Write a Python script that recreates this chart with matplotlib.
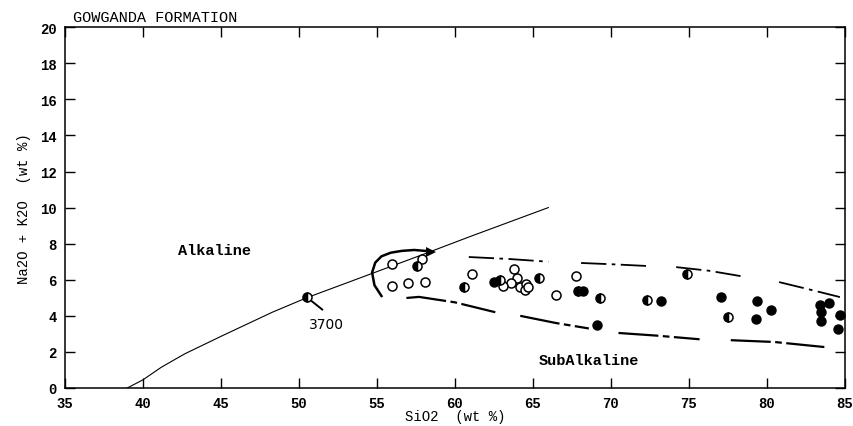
import numpy as np
import matplotlib.pyplot as plt

# Irvine & Baragar alkaline / subalkaline divide
div_x = [39.0, 40.0, 41.2, 42.7, 45.1, 48.3, 50.5, 54.7, 57.8, 61.0, 66.0]
div_y = [0.0, 0.45, 1.16, 1.9, 2.9, 4.2, 5.0, 6.35, 7.35, 8.4, 10.0]

# samples (SiO2, Na2O+K2O)
open_x = [56.0, 56.0, 57.0, 58.1, 57.9, 61.1, 63.8, 64.0, 63.6, 63.1, 64.2, 64.6, 64.5, 64.7, 67.8, 66.5]
open_y = [6.9, 5.65, 5.8, 5.9, 7.15, 6.3, 6.6, 6.1, 5.8, 5.65, 5.6, 5.75, 5.45, 5.6, 6.2, 5.15]

half_x = [50.5, 57.6, 60.6, 62.9, 65.4, 67.9, 69.3, 72.3, 74.9, 77.5]
half_y = [5.05, 6.75, 5.6, 6.0, 6.1, 5.4, 5.0, 4.9, 6.3, 3.95]

full_x = [62.5, 68.2, 69.1, 73.2, 77.1, 79.4, 79.3, 80.3, 83.4, 83.5, 83.5, 84.0, 84.7, 84.55]
full_y = [5.9, 5.35, 3.5, 4.8, 5.05, 4.8, 3.8, 4.3, 4.6, 4.2, 3.7, 4.7, 4.05, 3.25]

# hand-drawn field outline (broken segments)
upper_segs = [
    ([60.9, 63.5, 66.0], [7.26, 7.15, 7.0]),
    ([68.1, 70.3, 72.4], [6.93, 6.85, 6.76]),
    ([74.2, 76.3, 78.35], [6.7, 6.5, 6.2]),
    ([80.8, 82.8, 84.7], [5.87, 5.45, 5.04]),
]
lower_segs = [
    ([56.9, 57.7, 60.0, 62.6], [4.99, 5.05, 4.75, 4.2]),
    ([64.2, 66.5, 68.6], [4.0, 3.6, 3.3]),
    ([70.5, 73.0, 75.7], [3.05, 2.9, 2.7]),
    ([77.7, 80.5, 83.7], [2.65, 2.55, 2.27]),
]
arc_x = [55.3, 54.85, 54.7, 54.9, 55.3, 55.9, 56.6, 57.4, 58.1]
arc_y = [5.1, 5.7, 6.4, 6.95, 7.3, 7.5, 7.6, 7.65, 7.6]

mono = 'Liberation Mono'

fig, ax = plt.subplots(figsize=(8.54, 4.27), dpi=100)
fig.subplots_adjust(left=0.076, right=0.989, bottom=0.089, top=0.934)

ax.plot(div_x, div_y, color='black', lw=0.8)

for sx, sy in upper_segs:
    ax.plot(sx, sy, color='black', lw=1.3, dashes=(14, 3, 2, 3))
for sx, sy in lower_segs:
    ax.plot(sx, sy, color='black', lw=1.6, dashes=(18, 2, 3, 2))
ax.plot(arc_x, arc_y, color='black', lw=1.8)
ax.plot([58.5], [7.55], marker='>', color='black', ms=7, mew=0)

ax.plot(open_x, open_y, 'o', mfc='white', mec='black', ms=6.5, mew=1.1, ls='none')
ax.plot(half_x, half_y, 'o', fillstyle='left', color='black', mfcalt='white',
        mec='black', ms=6.5, mew=1.1, ls='none')
ax.plot(full_x, full_y, 'o', color='black', ms=6.5, ls='none')

ax.plot([50.85, 51.5], [4.8, 4.35], color='black', lw=1.4)
ax.text(51.8, 3.55, '3700', fontsize=10, ha='center', va='center', family='DejaVu Sans')
ax.text(44.6, 7.65, 'Alkaline', fontsize=11, ha='center', va='center', family=mono, fontweight='bold')
ax.text(68.6, 1.55, 'SubAlkaline', fontsize=11, ha='center', va='center', family=mono, fontweight='bold')

ax.set_xlim(35, 85)
ax.set_ylim(0, 20)
ax.set_xticks(np.arange(35, 86, 5))
ax.set_yticks(np.arange(0, 21, 2))
ax.tick_params(direction='in', length=7, width=1, top=True, right=True,
               labelsize=10, pad=6)
for lab in ax.get_xticklabels() + ax.get_yticklabels():
    lab.set_family(mono)
    lab.set_fontweight('bold')
for sp in ax.spines.values():
    sp.set_linewidth(1.1)

ax.set_xlabel('SiO2  (wt %)', family=mono, fontsize=10, labelpad=-1)
ax.set_ylabel('Na2O + K2O  (wt %)', family=mono, fontsize=10, labelpad=6)
ax.text(0.011, 1.008, 'GOWGANDA FORMATION', transform=ax.transAxes, family=mono,
        fontsize=11, ha='left', va='bottom')

fig.savefig('out.png', dpi=100)
